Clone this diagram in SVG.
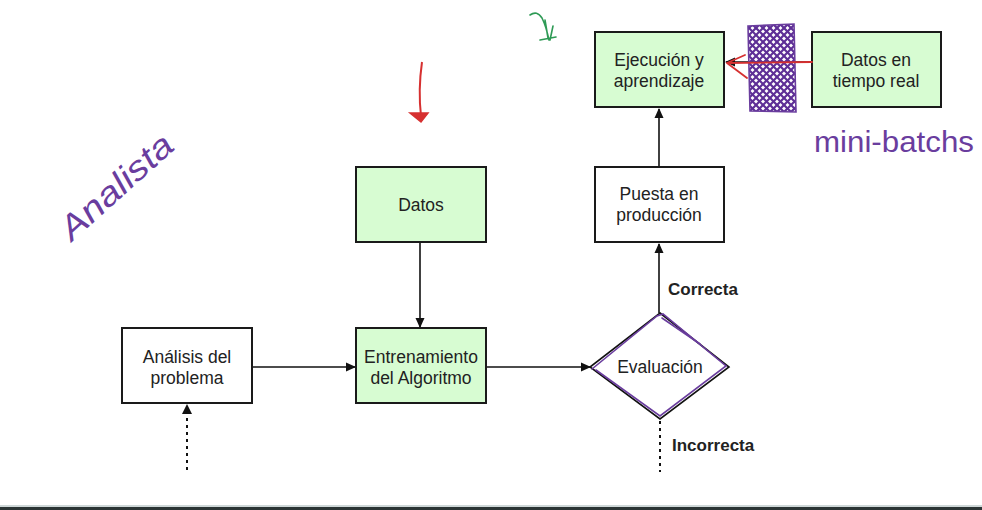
<svg xmlns="http://www.w3.org/2000/svg" width="982" height="510" viewBox="0 0 982 510">
<style>
.box{stroke:#1a1a1a;stroke-width:2}
.g{fill:#d7fcd2}
.w{fill:#ffffff}
.t{font-family:"Liberation Sans",Arial,sans-serif;font-size:17.5px;fill:#222;text-anchor:middle}
.b{font-family:"Liberation Sans",Arial,sans-serif;font-size:17px;font-weight:bold;fill:#222}
.c{stroke:#111;stroke-width:1.6;fill:none}
.d{stroke:#111;stroke-width:2;fill:none;stroke-dasharray:3 4}
.hand{font-family:"Liberation Sans",Arial,sans-serif;fill:#6a3d9e}
.pp{stroke:#6a3d9e;stroke-width:1.6;fill:none;stroke-linecap:round}
</style>
<defs>
<marker id="ah" markerWidth="10" markerHeight="10" refX="9" refY="5" orient="auto" markerUnits="userSpaceOnUse">
<path d="M0,0.5 L10,5 L0,9.5 Z" fill="#111"/>
</marker>
<clipPath id="hc"><path d="M748,26 L794,24 L796,112 L750,111 Z"/></clipPath>
</defs>
<rect width="982" height="510" fill="#ffffff"/>

<g id="connectors">
<line class="c" x1="252" y1="367" x2="355" y2="367" marker-end="url(#ah)"/>
<line class="c" x1="420" y1="242" x2="420" y2="327" marker-end="url(#ah)"/>
<line class="c" x1="486" y1="367" x2="590" y2="367" marker-end="url(#ah)"/>
<line class="c" x1="659" y1="313" x2="659" y2="244" marker-end="url(#ah)"/>
<line class="c" x1="659" y1="167" x2="659" y2="109" marker-end="url(#ah)"/>
<line class="c" x1="812" y1="62" x2="726" y2="62" marker-end="url(#ah)"/>
<line class="d" x1="187" y1="470" x2="187" y2="412"/>
<path d="M182,414 L187,404 L192,414 Z" fill="#111"/>
<line class="d" x1="660" y1="421" x2="660" y2="472"/>
</g>

<g id="analisis">
<rect class="box w" x="122" y="328" width="130" height="75"/>
<text class="t" x="187" y="363">Análisis del</text>
<text class="t" x="187" y="384">problema</text>
</g>
<g id="entrenamiento">
<rect class="box g" x="356" y="328" width="130" height="75"/>
<text class="t" x="421" y="363">Entrenamiento</text>
<text class="t" x="421" y="384">del Algoritmo</text>
</g>
<g id="datos">
<rect class="box g" x="356" y="167" width="130" height="75"/>
<text class="t" x="421" y="211">Datos</text>
</g>
<g id="puesta">
<rect class="box w" x="595" y="167" width="129" height="75"/>
<text class="t" x="659" y="200">Puesta en</text>
<text class="t" x="659" y="221">producción</text>
</g>
<g id="ejecucion">
<rect class="box g" x="595" y="32" width="129" height="75"/>
<text class="t" x="659" y="66">Ejecución y</text>
<text class="t" x="659" y="87">aprendizaje</text>
</g>
<g id="datos-tiempo-real">
<rect class="box g" x="812" y="32" width="129" height="75"/>
<text class="t" x="876" y="66">Datos en</text>
<text class="t" x="876" y="87">tiempo real</text>
</g>
<g id="evaluacion">
<path d="M660,313 L729,367 L660,419 L590,367 Z" fill="#fff" stroke="#111" stroke-width="1.6"/>
<path class="pp" d="M592,369 L657,316 L663,314 L726,366 L660,416 L596,370"/>
<path class="pp" d="M662,318 L700,344" />
<text class="t" x="660" y="373">Evaluación</text>
</g>
<text class="b" x="668" y="295">Correcta</text>
<text class="b" x="672" y="451">Incorrecta</text>

<g id="annotations">
<g clip-path="url(#hc)" stroke="#5e2f96" stroke-width="2.2" fill="none">
<path d="M700,0 L830,130 M700,7 L830,137 M700,14 L830,144 M700,21 L830,151 M700,28 L830,158 M700,35 L830,165 M700,42 L830,172 M700,49 L830,179 M700,56 L830,186 M700,63 L830,193 M700,70 L830,200 M700,77 L830,207 M700,84 L830,214 M700,91 L830,221 M700,98 L830,228 M700,-7 L830,123 M700,-14 L830,116 M700,-21 L830,109 M700,-28 L830,102 M700,-35 L830,95 M700,-42 L830,88 M700,-49 L830,81 M700,-56 L830,74 M700,-63 L830,67"/>
<path d="M840,0 L710,130 M840,7 L710,137 M840,14 L710,144 M840,21 L710,151 M840,28 L710,158 M840,35 L710,165 M840,42 L710,172 M840,49 L710,179 M840,56 L710,186 M840,63 L710,193 M840,70 L710,200 M840,77 L710,207 M840,84 L710,214 M840,91 L710,221 M840,98 L710,228 M840,-7 L710,123 M840,-14 L710,116 M840,-21 L710,109 M840,-28 L710,102 M840,-35 L710,95 M840,-42 L710,88 M840,-49 L710,81 M840,-56 L710,74 M840,-63 L710,67"/>
</g>
<path class="pp" stroke-width="2" stroke="#5e2f96" d="M748,26 L794,24 L796,112 L750,111 Z"/>
<path d="M812,62 L727,63 M727,63 L745,55 M727,63 L747,78" stroke="#d63030" stroke-width="1.8" fill="none" stroke-linecap="round"/>
<path d="M422,62 Q418,90 421,116" stroke="#d63030" stroke-width="2" fill="none"/>
<path d="M410,113 L428,113 L421,122 Z" fill="#d63030" stroke="#d63030" stroke-width="1.5"/>
<path d="M530,15 Q537,10 542,18 Q546,26 549,40 M545,20 L548,38 M540,40 L556,37 M550,40 L553,26" stroke="#2e9a55" stroke-width="1.6" fill="none" stroke-linecap="round"/>
<text class="hand" x="0" y="0" font-size="34" font-style="italic" transform="translate(72,242) rotate(-42)" textLength="140" lengthAdjust="spacingAndGlyphs">Analista</text>
<text class="hand" x="814" y="152" font-size="30" textLength="160" lengthAdjust="spacingAndGlyphs">mini-batchs</text>
</g>

<rect x="0" y="505" width="982" height="2" fill="#cfd8d8"/>
<rect x="0" y="507" width="982" height="3" fill="#2b3535"/>
</svg>
